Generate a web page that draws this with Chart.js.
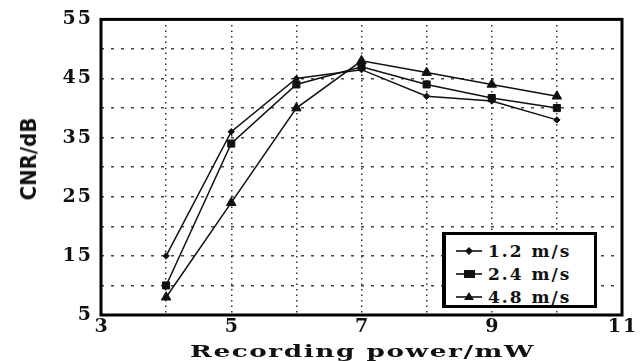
<!DOCTYPE html>
<html>
<head>
<meta charset="utf-8">
<script src="https://cdn.jsdelivr.net/npm/chart.js@4.4.1/dist/chart.umd.min.js"></script>
<style>
  html, body { margin: 0; padding: 0; background: #fff; }
  #wrap { position: relative; width: 643px; height: 361px; overflow: hidden; }
  #c { position: absolute; left: 0; top: 0; }
  #xt { position: absolute; left: 190px; top: 342.6px; white-space: nowrap; transform-origin: 0 0;
        font: bold 17px/17px "DejaVu Serif", serif; letter-spacing: 1px; color: #111; }
  .yt { position: absolute; left: 29px; top: 159px; transform: translate(-50%, -50%) rotate(-90deg);
        font: bold 22px "DejaVu Sans Condensed", "DejaVu Sans", sans-serif; font-stretch: condensed;
        color: #111; white-space: nowrap; line-height: 22px; }
  #legend { position: absolute; left: 442px; top: 232px; width: 148px; height: 70px;
            border: 3px solid #000; border-left-width: 4px; background: #fff; box-sizing: content-box; }
  .row { position: absolute; left: 9px; height: 22px; display: flex; align-items: center;
         font: bold 17px "DejaVu Serif", serif; letter-spacing: 2px; color: #111; white-space: nowrap; }
  .row svg { margin-right: 5px; }
</style>
</head>
<body>
<div id="wrap">
  <canvas id="c" width="643" height="361"></canvas>
  <div class="yt">CNR/dB</div>
  <div id="xt">Recording power/mW</div>
  <div id="legend"></div>
</div>
<script>
// Data
const powers = [4, 5, 6, 7, 8, 9, 10];             // Recording power / mW
const series12 = [15, 36, 45, 46.5, 42, 41.2, 38]; // 1.2 m/s
const series24 = [10, 34, 44, 47, 44, 41.7, 40];   // 2.4 m/s
const series48 = [8, 24, 40, 48, 46, 44, 42];      // 4.8 m/s
const seriesNames = ['1.2 m/s', '2.4 m/s', '4.8 m/s'];
const yTickLabels = [5, 15, 25, 35, 45, 55];
const xTickLabels = [3, 5, 7, 9, 11];

const toPts = arr => powers.map((p, i) => ({ x: p, y: arr[i] }));
const styles = [
  { pointStyle: 'rectRot', radius: 3.2 },
  { pointStyle: 'rect', radius: 5 },
  { pointStyle: 'triangle', radius: 5.5 }
];
const allSeries = [series12, series24, series48];

const datasets = allSeries.map((s, i) => ({
  label: seriesNames[i],
  data: toPts(s),
  borderColor: '#111',
  backgroundColor: '#111',
  borderWidth: 1.5,
  pointStyle: styles[i].pointStyle,
  pointRadius: styles[i].radius,
  pointBorderWidth: 1,
  tension: 0
}));

const framePlugin = {
  id: 'frame',
  beforeDraw(chart) {
    chart.ctx.letterSpacing = '2px';
  },
  afterDraw(chart) {
    const { ctx, chartArea: a } = chart;
    ctx.save();
    ctx.strokeStyle = '#000';
    ctx.lineWidth = 3;
    ctx.strokeRect(a.left, a.top, a.right - a.left, a.bottom - a.top);
    ctx.restore();
  }
};

const tickFont = { family: '"DejaVu Serif", serif', size: 19, weight: 'bold' };

new Chart(document.getElementById('c'), {
  type: 'line',
  data: { datasets },
  options: {
    responsive: false,
    animation: false,
    devicePixelRatio: 1,
    layout: { padding: { left: 0, top: 12, right: 21, bottom: 0 } },
    plugins: { legend: { display: false }, tooltip: { enabled: false } },
    scales: {
      x: {
        type: 'linear', min: 3, max: 11,
        afterFit(s) { s.height = 46; },
        ticks: {
          stepSize: 1, color: '#111', font: tickFont, padding: 1, maxRotation: 0,
          labelOffset: 1,
          callback: v => xTickLabels.includes(v) ? String(v) : ''
        },
        grid: {
          drawTicks: false, lineWidth: 1.5,
          color: c => (c.tick && (c.tick.value === 3 || c.tick.value === 11)) ? 'rgba(0,0,0,0)' : '#333'
        },
        border: { display: false, dash: [1.5, 4] }
      },
      y: {
        min: 5, max: 55,
        afterFit(s) { s.width = 101; },
        ticks: {
          stepSize: 5, color: '#111', font: tickFont, padding: 8,
          callback: v => yTickLabels.includes(v) ? String(v) : ''
        },
        grid: {
          drawTicks: false, lineWidth: 1.5,
          color: c => (c.tick && (c.tick.value === 5 || c.tick.value === 55)) ? 'rgba(0,0,0,0)' : '#444'
        },
        border: { display: false, dash: [3, 7] }
      }
    }
  },
  plugins: [framePlugin]
});

// Stretch the x-axis title horizontally to the width it has in the reference
const xt = document.getElementById('xt');
xt.style.transform = 'scaleX(' + (345 / xt.offsetWidth) + ')';

// HTML legend
const lg = document.getElementById('legend');
seriesNames.forEach((name, i) => {
  const row = document.createElement('div');
  row.className = 'row';
  row.style.top = (5 + i * 23) + 'px';
  let marker;
  if (i === 0) marker = '<polygon points="14,3 18,7 14,11 10,7" fill="#111"/>';
  else if (i === 1) marker = '<rect x="9" y="3" width="11" height="8" fill="#111"/>';
  else marker = '<polygon points="14,2 19,10 9,10" fill="#111"/>';
  row.innerHTML = '<svg width="28" height="14"><line x1="1" y1="7" x2="27" y2="7" stroke="#111" stroke-width="1.6"/>' + marker + '</svg><span>' + name + '</span>';
  lg.appendChild(row);
});
</script>
</body>
</html>
